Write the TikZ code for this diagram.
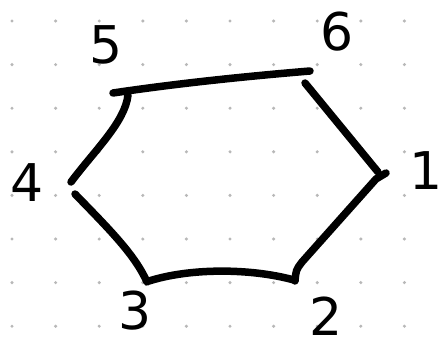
\documentclass[tikz,border=0pt]{standalone}
\usepackage{fontspec}
\setmainfont{DejaVu Sans}
\usepackage{xcolor}
\definecolor{GridDot}{HTML}{B8B8B8}
\begin{document}
\begin{tikzpicture}[x=1pt, y=-1pt,
   edge/.style={line width=7.5pt, line cap=round, line join=round, black},
   lbl/.style={inner sep=0pt, font=\fontsize{52}{52}\selectfont},
   griddot/.style={fill=GridDot, draw=none}]
  \useasboundingbox[fill=white] (0,0) rectangle (443,348);
  % Punktraster
  \foreach \i in {0,...,9}
    \foreach \j in {0,...,7}
      \fill[griddot] ({12+43.6*\i},{21+43.6*\j}) circle (1.7pt);
  % Ecken des Sechsecks (Anfang/Ende jeder Kante)
  \coordinate (v5a) at (113,93);  \coordinate (v6a) at (310,71);
  \coordinate (v6b) at (305,83);  \coordinate (v1a) at (378,172);
  \coordinate (v1b) at (386,173); \coordinate (v2a) at (295,281);
  \coordinate (v2b) at (294,280); \coordinate (v3a) at (149,281);
  \coordinate (v3b) at (147,282); \coordinate (v4a) at (75,194);
  \coordinate (v4b) at (71,182);  \coordinate (v5b) at (128,95);
  \draw[edge] (v5a) .. controls (180,83) and (250,76) .. (v6a);
  \draw[edge] (v6b) -- (v1a);
  \draw[edge] (v1b) -- (376,179) -- (302,262) .. controls (296,270) .. (v2a);
  \draw[edge] (v2b) .. controls (250,268) and (190,268) .. (v3a);
  \draw[edge] (v3b) .. controls (135,255) and (110,230) .. (v4a);
  \draw[edge] (v4b) .. controls (95,150) and (125,122) .. (v5b);
  % Beschriftungen
  \node[lbl] (n1) at (426,171) {1};
  \node[lbl] (n2) at (326,316) {2};
  \node[lbl] (n3) at (135,311) {3};
  \node[lbl] (n4) at (27,183)  {4};
  \node[lbl] (n5) at (106,45)  {5};
  \node[lbl] (n6) at (337,32)  {6};
\end{tikzpicture}
\end{document}
